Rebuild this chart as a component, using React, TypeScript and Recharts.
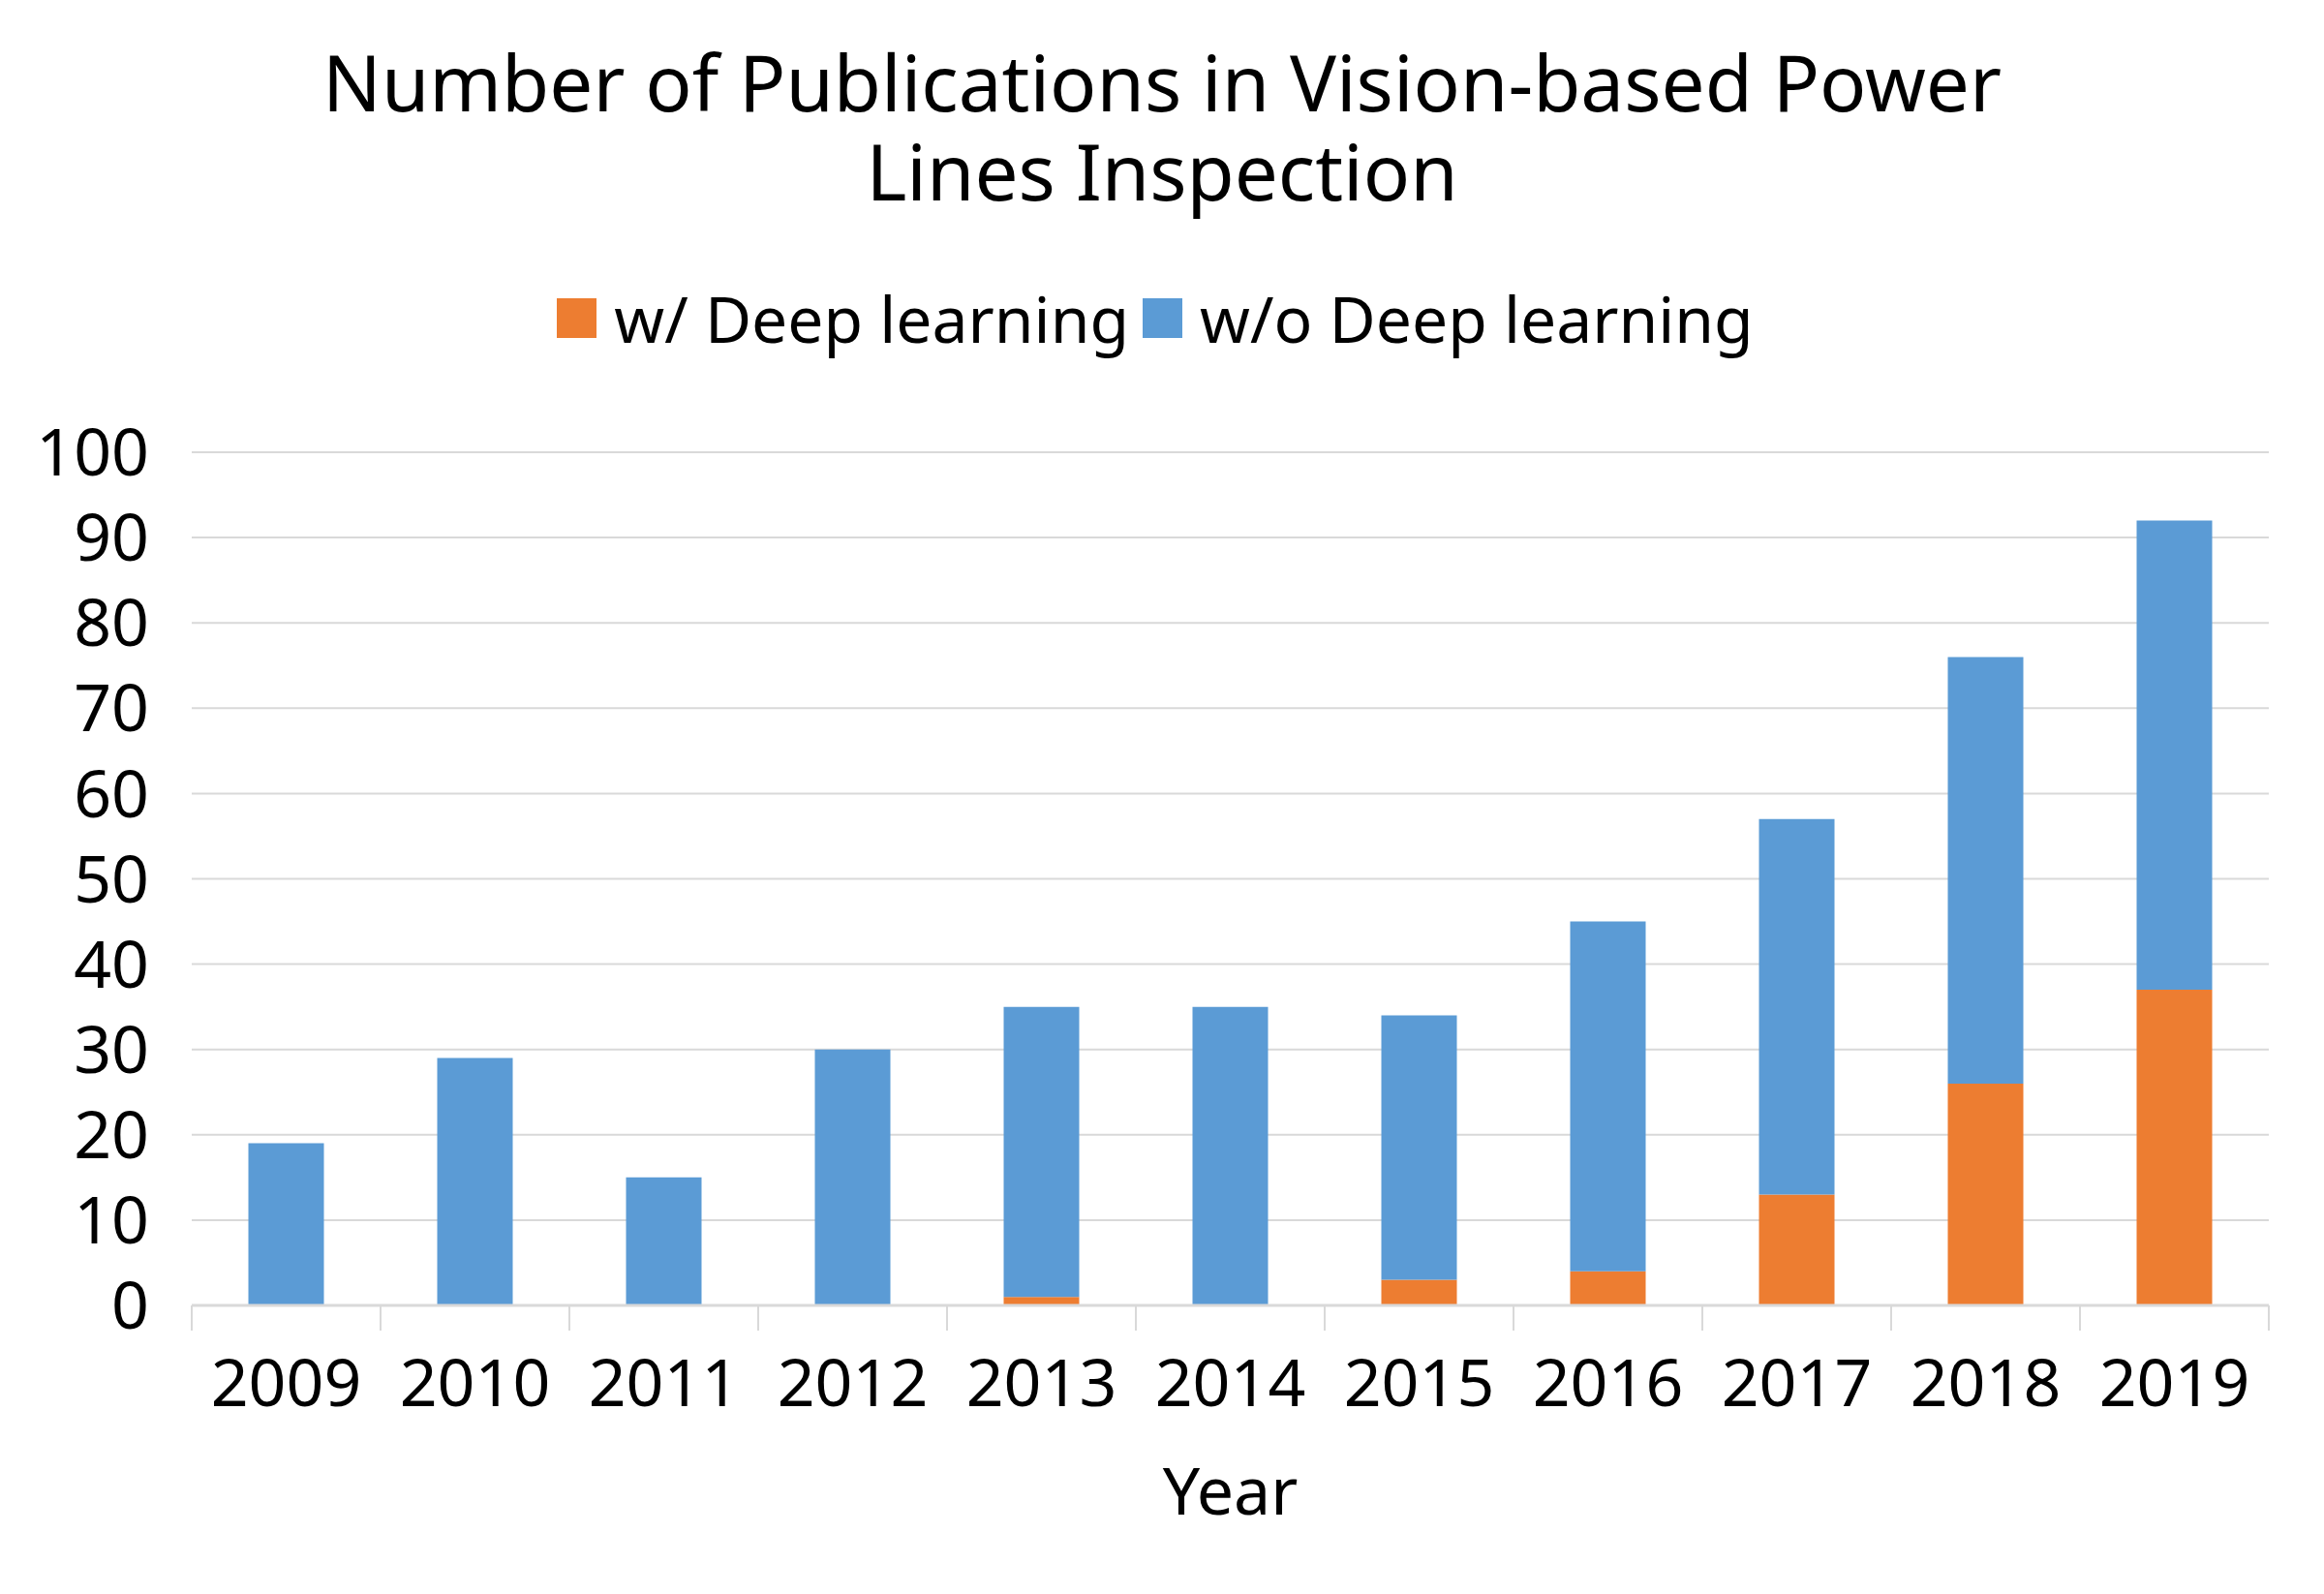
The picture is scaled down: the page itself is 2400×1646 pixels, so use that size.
import { BarChart, Bar, XAxis, YAxis, CartesianGrid, Legend } from 'recharts';

const YEARS = ['2009', '2010', '2011', '2012', '2013', '2014', '2015', '2016', '2017', '2018', '2019'];
const WITH_DL = [0, 0, 0, 0, 1, 0, 3, 4, 13, 26, 37];
const WITHOUT_DL = [19, 29, 15, 30, 34, 35, 31, 41, 44, 50, 55];
const Y_TICKS = [0, 10, 20, 30, 40, 50, 60, 70, 80, 90, 100];

const FONT = '"Noto Sans", "Open Sans", sans-serif';
const W = 2400;
const H = 1646;
const PLOT_LEFT = 198;
const PLOT_RIGHT = 2343;
const PLOT_TOP = 467;
const PLOT_BOTTOM = 1348;
const X_AXIS_H = 200;
const STEP = (PLOT_RIGHT - PLOT_LEFT) / YEARS.length;
const LEGEND_H = 80;

const data = YEARS.map((year, i) => ({
  year,
  withDL: WITH_DL[i],
  withoutDL: WITHOUT_DL[i],
}));

function YearTick(props: any) {
  const { x, y, payload, index } = props;
  const half = STEP / 2;
  return (
    <g>
      <line x1={x - half} y1={y} x2={x - half} y2={y + 26} stroke="#d9d9d9" strokeWidth={2} />
      {index === YEARS.length - 1 && (
        <line x1={x + half} y1={y} x2={x + half} y2={y + 26} stroke="#d9d9d9" strokeWidth={2} />
      )}
      <text x={x} y={y + 104} textAnchor="middle" fill="#000" fontSize={68} fontFamily={FONT}>
        {payload.value}
      </text>
    </g>
  );
}

function LegendContent(props: any) {
  const { payload } = props;
  return (
    <div
      style={{
        display: 'flex',
        justifyContent: 'center',
        alignItems: 'center',
        fontFamily: FONT,
        height: LEGEND_H,
      }}
    >
      {payload.map((p: any) => (
        <div key={p.value} style={{ display: 'flex', alignItems: 'center', marginRight: 14 }}>
          <span style={{ width: 41, height: 41, background: p.color, display: 'inline-block', marginRight: 18 }} />
          <span style={{ fontSize: 66, color: '#000', lineHeight: '80px' }}>{p.value}</span>
        </div>
      ))}
    </div>
  );
}

export default function App() {
  return (
    <div style={{ position: 'absolute', left: 0, top: 0, width: W, height: H, background: '#fff' }}>
      <div
        style={{
          position: 'absolute',
          left: 0,
          top: 38,
          width: W,
          textAlign: 'center',
          fontFamily: FONT,
          fontSize: 80,
          lineHeight: '92px',
          color: '#000',
        }}
      >
        Number of Publications in Vision-based Power
        <br />
        Lines Inspection
      </div>
      <BarChart
        width={W}
        height={H}
        data={data}
        margin={{
          top: PLOT_TOP - LEGEND_H,
          right: W - PLOT_RIGHT,
          bottom: H - PLOT_BOTTOM - X_AXIS_H,
          left: 0,
        }}
        barCategoryGap="30%"
      >
        <CartesianGrid vertical={false} stroke="#d9d9d9" strokeWidth={2} />
        <XAxis
          dataKey="year"
          height={X_AXIS_H}
          axisLine={{ stroke: '#d9d9d9', strokeWidth: 3 }}
          tickLine={false}
          tickSize={0}
          tickMargin={0}
          tick={<YearTick />}
          interval={0}
          label={{
            value: 'Year',
            position: 'insideBottom',
            offset: -16,
            fontSize: 68,
            fontFamily: FONT,
            fill: '#000',
          }}
        />
        <YAxis
          width={PLOT_LEFT}
          domain={[0, 100]}
          ticks={Y_TICKS}
          interval={0}
          axisLine={false}
          tickLine={false}
          tickSize={0}
          tickMargin={44}
          tick={{ fontSize: 68, fontFamily: FONT, fill: '#000' }}
        />
        <Legend
          verticalAlign="top"
          height={LEGEND_H}
          content={<LegendContent />}
          wrapperStyle={{ top: 288, left: 0, width: W }}
        />
        <Bar dataKey="withDL" name="w/ Deep learning" stackId="a" fill="#ED7D31" isAnimationActive={false} />
        <Bar dataKey="withoutDL" name="w/o Deep learning" stackId="a" fill="#5B9BD5" isAnimationActive={false} />
      </BarChart>
    </div>
  );
}
